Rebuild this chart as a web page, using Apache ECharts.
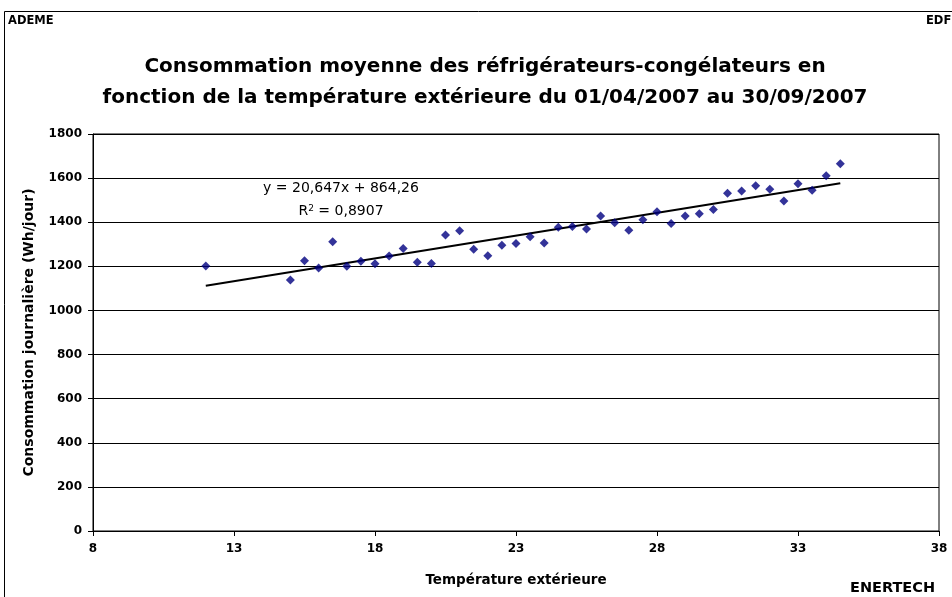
<!DOCTYPE html>
<html>
<head>
<meta charset="utf-8">
<script src="https://cdn.jsdelivr.net/npm/echarts@6/dist/echarts.min.js"></script>
<style>
  html, body { margin: 0; padding: 0; background: #fff; }
  #main { width: 952px; height: 597px; }
</style>
</head>
<body>
<div id="main"></div>
<script>
// températures extérieures (°C)
var temperatures = [12, 15, 15.5, 16, 16.5, 17, 17.5, 18, 18.5, 19, 19.5, 20, 20.5, 21, 21.5, 22, 22.5, 23, 23.5, 24,
  24.5, 25, 25.5, 26, 26.5, 27, 27.5, 28, 28.5, 29, 29.5, 30, 30.5, 31, 31.5, 32, 32.5, 33, 33.5, 34, 34.5];
// consommation journalière (Wh/jour)
var consommation = [1201, 1138, 1225, 1193, 1311, 1200, 1223, 1212, 1247, 1281, 1219, 1213, 1342, 1361, 1277, 1248, 1296, 1304, 1334, 1306,
  1377, 1381, 1369, 1428, 1398, 1364, 1411, 1448, 1394, 1428, 1438, 1458, 1531, 1541, 1565, 1550, 1496, 1574, 1545, 1611, 1665];
// droite de régression
var pente = 20.647;
var origine = 864.26;
var trendX = [12, 34.5];
var xTicks = [8, 38, 5];
var yTicks = [0, 1800, 200];

var bold = 'DejaVu Sans, Arial, sans-serif';
var regular = 'DejaVu Sans, Arial, sans-serif';
var chart = echarts.init(document.getElementById('main'));

var points = temperatures.map(function (t, i) { return [t, consommation[i]]; });
var trend = trendX.map(function (t) { return [t, pente * t + origine]; });

var option = {
  backgroundColor: '#ffffff',
  animation: false,
  title: {
    text: 'Consommation moyenne des réfrigérateurs-congélateurs en\nfonction de la température extérieure du 01/04/2007 au 30/09/2007',
    left: 480,
    top: 46,
    textAlign: 'center',
    textStyle: { fontFamily: bold, fontSize: 20, fontWeight: 'bold', color: '#000', lineHeight: 31 }
  },
  grid: {
    left: 93, right: 13, top: 134, bottom: 66,
    show: true, borderColor: '#000', borderWidth: 1
  },
  xAxis: {
    type: 'value',
    min: xTicks[0], max: xTicks[1], interval: xTicks[2],
    name: 'Température extérieure',
    nameLocation: 'middle',
    nameGap: 42,
    nameTextStyle: { fontFamily: bold, fontSize: 13.5, fontWeight: 'bold', color: '#000' },
    axisLine: { lineStyle: { color: '#000' } },
    axisTick: { show: true, inside: false, length: 5, lineStyle: { color: '#000' } },
    axisLabel: { fontFamily: bold, fontSize: 12, fontWeight: 'bold', color: '#000', margin: 12 },
    splitLine: { show: false }
  },
  yAxis: {
    type: 'value',
    min: yTicks[0], max: yTicks[1], interval: yTicks[2],
    name: 'Consommation journalière (Wh/jour)',
    nameLocation: 'middle',
    nameGap: 57,
    nameTextStyle: { fontFamily: bold, fontSize: 14, fontWeight: 'bold', color: '#000' },
    axisLine: { show: true, lineStyle: { color: '#000' } },
    axisTick: { show: true, inside: false, length: 5, lineStyle: { color: '#000' } },
    axisLabel: {
      fontFamily: bold, fontSize: 12, fontWeight: 'bold', color: '#000', margin: 11,
      formatter: function (v) { return String(v); }
    },
    splitLine: { show: true, lineStyle: { color: '#000', width: 1 } }
  },
  series: [
    {
      type: 'scatter',
      data: points,
      symbol: 'diamond',
      symbolSize: 9,
      itemStyle: { color: '#000080' },
      z: 3
    },
    {
      type: 'line',
      data: trend,
      symbol: 'none',
      lineStyle: { color: '#000', width: 2 },
      z: 2
    }
  ],
  graphic: [
    { type: 'rect', shape: { x: 4.5, y: 11.5, width: 1000, height: 700 }, style: { fill: null, stroke: '#000', lineWidth: 1 }, silent: true },
    { type: 'text', left: 8, top: 15, style: { text: 'ADEME', font: 'bold 11.5px ' + bold, fill: '#000' } },
    { type: 'text', left: 926, top: 15, style: { text: 'EDF', font: 'bold 11.5px ' + bold, fill: '#000' } },
    { type: 'text', x: 341, y: 181, style: { text: 'y = 20,647x + 864,26', font: '14px ' + regular, fill: '#000', align: 'center' } },
    {
      type: 'text', x: 341, y: 204,
      style: {
        text: 'R{s|2} = 0,8907', font: '14px ' + regular, fill: '#000', align: 'center',
        rich: { s: { fontSize: 9, fontFamily: regular, verticalAlign: 'top', padding: [0, 0, 6, 0] } }
      }
    },
    { type: 'text', left: 850, top: 581, style: { text: 'ENERTECH', font: 'bold 14.5px ' + bold, fill: '#000' } }
  ]
};

chart.setOption(option);
</script>
</body>
</html>
